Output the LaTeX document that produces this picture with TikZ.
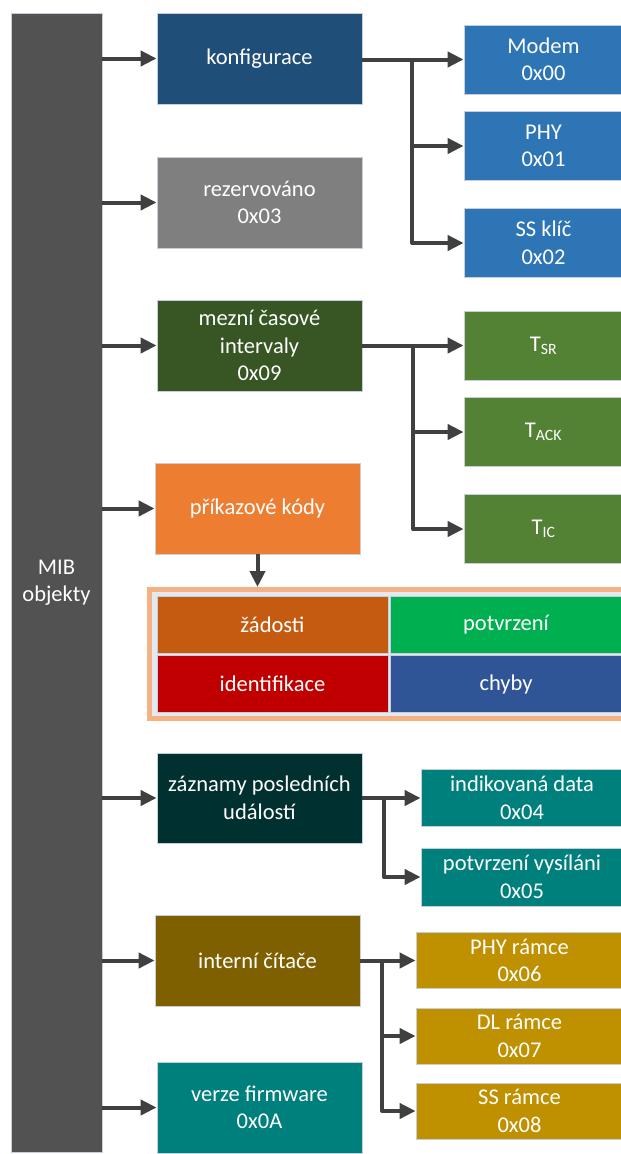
\documentclass[tikz,border=0pt]{standalone}
\usepackage{fontspec}
\setmainfont{Carlito}
\usetikzlibrary{arrows.meta}
\definecolor{bargray}{HTML}{525252}
\definecolor{arrgray}{HTML}{404040}
\definecolor{boxline}{HTML}{C5CEDA}
\definecolor{cKonf}{HTML}{1F4E79}
\definecolor{cRez}{HTML}{7F7F7F}
\definecolor{cMez}{HTML}{375623}
\definecolor{cPrik}{HTML}{ED7D31}
\definecolor{cZaz}{HTML}{00302F}
\definecolor{cInt}{HTML}{7F6000}
\definecolor{cVer}{HTML}{00807D}
\definecolor{cBlue}{HTML}{2E75B6}
\definecolor{cGreen}{HTML}{548235}
\definecolor{cTeal}{HTML}{00807D}
\definecolor{cGold}{HTML}{BF9000}
\definecolor{cZad}{HTML}{C55A11}
\definecolor{cPot}{HTML}{00B050}
\definecolor{cIde}{HTML}{C00000}
\definecolor{cChy}{HTML}{2F5597}
\definecolor{frameor}{HTML}{F4B183}
\definecolor{framein}{HTML}{E4E9EF}
\begin{document}
\begin{tikzpicture}[x=1pt,y=-1pt,
  box/.style={draw=boxline, line width=0.8pt, text=white, align=center, inner sep=0pt,
    font=\fontsize{22.5}{27.5}\selectfont, minimum width=205pt, minimum height=91pt},
  rbox/.style={box, minimum width=159pt, minimum height=69pt},
  cell/.style={box, draw=boxline, minimum width=231pt, minimum height=57pt},
  frm/.style={draw=frameor, line width=5pt, fill=framein, minimum width=479pt, minimum height=129pt, inner sep=0pt},
  arr/.style={draw=arrgray, line width=4pt, line join=round, -{Triangle[length=16pt,width=15pt]}}
]
\useasboundingbox (0,0) rectangle (621,1154);
% main bar
\node[box, fill=bargray, minimum width=91pt, minimum height=1139pt] (mib) at (56.5,582.5) {MIB\\objekty};
% left column
\node[box, fill=cKonf] (konf) at (259.5,58.5) {konfigurace};
\node[box, fill=cRez] (rez) at (259.5,202.5) {rezervováno\\0x03};
\node[box, fill=cMez] (mez) at (259.5,345.5) {mezní časové\\intervaly\\0x09};
\node[box, fill=cPrik] (prik) at (257.5,508.5) {příkazové kódy};
\node[box, fill=cZaz, minimum height=90pt] (zaz) at (259.5,798) {záznamy posledních\\událostí};
\node[box, fill=cInt] (int) at (257.5,960.5) {interní čítače};
\node[box, fill=cVer] (ver) at (259.5,1107.5) {verze firmware\\0x0A};
% right column
\node[rbox, fill=cBlue] (modem) at (543.5,59.5) {Modem\\0x00};
\node[rbox, fill=cBlue] (phy) at (543.5,146) {PHY\\0x01};
\node[rbox, fill=cBlue] (ssk) at (543.5,243) {SS klíč\\0x02};
\node[rbox, fill=cGreen] (tsr) at (543.5,345.5) {T\textsubscript{SR}};
\node[rbox, fill=cGreen] (tack) at (543.5,432) {T\textsubscript{ACK}};
\node[rbox, fill=cGreen] (tic) at (543.5,529) {T\textsubscript{IC}};
\node[rbox, fill=cTeal, minimum width=202pt, minimum height=57pt] (ind) at (522,798) {indikovaná data\\0x04};
\node[rbox, fill=cTeal, minimum width=202pt, minimum height=58pt] (pvys) at (522,877) {potvrzení vysíláni\\0x05};
\node[rbox, fill=cGold, minimum width=207pt, minimum height=56pt] (phyr) at (519.5,960.5) {PHY rámce\\0x06};
\node[rbox, fill=cGold, minimum width=207pt, minimum height=56pt] (dlr) at (519.5,1036) {DL rámce\\0x07};
\node[rbox, fill=cGold, minimum width=207pt, minimum height=56pt] (ssr) at (519.5,1111) {SS rámce\\0x08};
% command codes frame
\node[frm] (cmd) at (389,654) {};
\node[cell, fill=cZad] (zad) at (272.5,624.5) {žádosti};
\node[cell, fill=cPot, minimum width=232pt] (pot) at (506,624.5) {potvrzení};
\node[cell, fill=cIde] (ide) at (272.5,684) {identifikace};
\node[cell, fill=cChy, minimum width=232pt] (chy) at (506,684) {chyby};
% arrows from bar
\foreach \n in {konf,rez,mez,prik,zaz,int,ver}
  \draw[arr] (mib.east |- \n.west) -- (\n.west);
% konfigurace branch
\coordinate (b1) at (412,59.5);
\draw[arr] (konf.east |- modem.west) -- (modem.west);
\draw[arr] (b1) |- (phy.west);
\draw[arr] (b1) |- (ssk.west);
% mezni branch
\coordinate (b2) at (413,345.5);
\draw[arr] (mez.east |- tsr.west) -- (tsr.west);
\draw[arr] (b2) |- (tack.west);
\draw[arr] (b2) |- (tic.west);
% prikazove down
\draw[arr] (prik.south) -- (prik.south |- cmd.north);
% zaznamy branch
\coordinate (b3) at (384,798);
\draw[arr] (zaz.east) -- (ind.west |- zaz.east);
\draw[arr] (b3) |- (pvys.west);
% interni branch
\coordinate (b4) at (382,960.5);
\draw[arr] (int.east) -- (phyr.west);
\draw[arr] (b4) |- (dlr.west);
\draw[arr] (b4) |- (ssr.west);
\end{tikzpicture}
\end{document}
